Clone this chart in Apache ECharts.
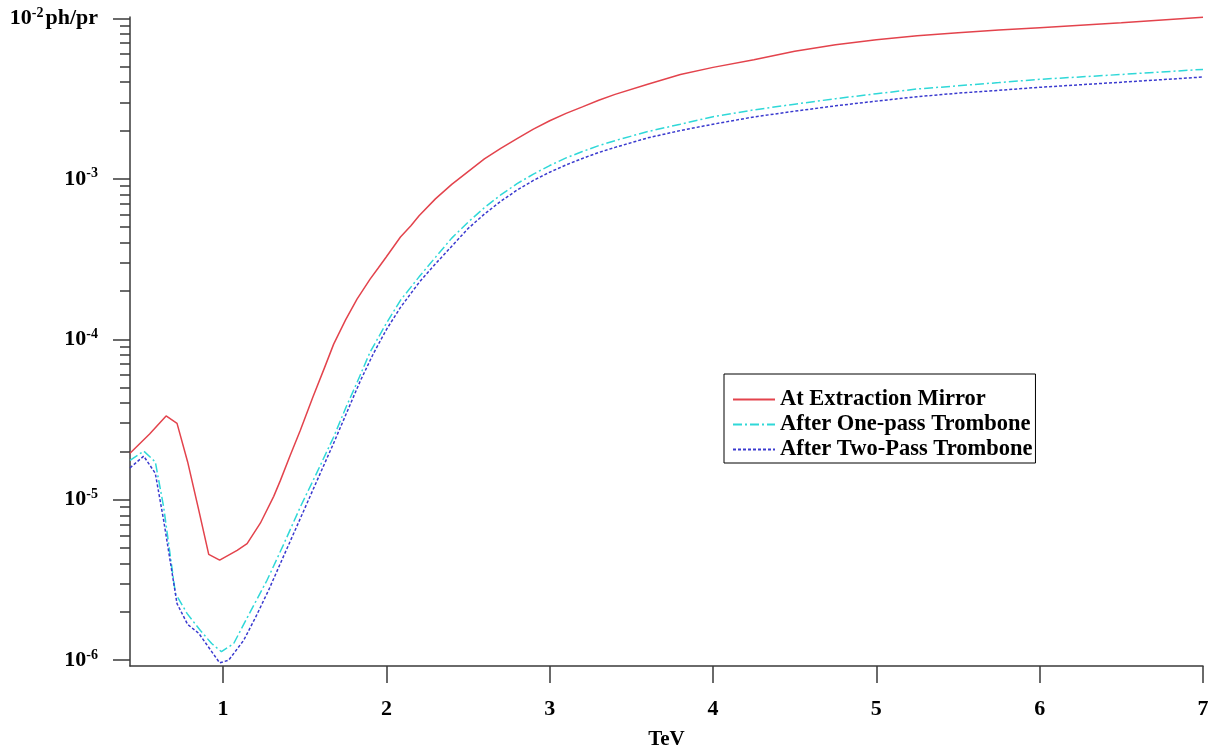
<!DOCTYPE html>
<html>
<head>
<meta charset="utf-8">
<script src="https://cdn.jsdelivr.net/npm/echarts@6/dist/echarts.min.js"></script>
<style>
html,body{margin:0;padding:0;background:#fff;}
#chart{width:1213px;height:748px;}
</style>
</head>
<body>
<div id="chart"></div>
<script>
// ---- data ----
const seriesNames = ['At Extraction Mirror', 'After One-pass Trombone', 'After Two-Pass Trombone'];

const xRed = [0.43,0.55,0.651,0.718,0.783,0.85,0.912,0.979,1.086,1.147,1.228,1.31,1.351,1.41,1.473,1.55,1.62,1.677,1.75,1.82,1.9,1.95,2.0,2.086,2.15,2.2,2.3,2.4,2.5,2.6,2.7,2.8,2.9,3.0,3.1,3.2,3.3,3.4,3.6,3.8,4.0,4.25,4.5,4.75,5.0,5.25,5.5,5.75,6.0,6.5,7.0];
const yRed = [1.95e-5,2.57e-5,3.33e-5,2.99e-5,1.72e-5,8.71e-6,4.57e-6,4.20e-6,4.84e-6,5.33e-6,7.14e-6,1.05e-5,1.32e-5,1.88e-5,2.71e-5,4.37e-5,6.61e-5,9.33e-5,1.32e-4,1.78e-4,2.37e-4,2.78e-4,3.27e-4,4.34e-4,5.10e-4,5.89e-4,7.50e-4,9.23e-4,1.11e-3,1.33e-3,1.55e-3,1.78e-3,2.04e-3,2.30e-3,2.56e-3,2.81e-3,3.09e-3,3.36e-3,3.89e-3,4.47e-3,4.95e-3,5.52e-3,6.24e-3,6.84e-3,7.36e-3,7.80e-3,8.13e-3,8.45e-3,8.75e-3,9.38e-3,1.015e-2];

const xCyan = [0.43,0.514,0.585,0.636,0.708,0.78,0.861,0.93,0.99,1.065,1.15,1.269,1.37,1.473,1.575,1.677,1.75,1.82,1.9,2.0,2.086,2.2,2.3,2.4,2.5,2.6,2.7,2.8,2.9,3.0,3.1,3.2,3.3,3.4,3.6,3.8,4.0,4.25,4.5,4.75,5.0,5.25,5.5,5.75,6.0,6.5,7.0];
const yCyan = [1.76e-5,2.01e-5,1.72e-5,9.02e-6,2.61e-6,1.95e-6,1.53e-6,1.27e-6,1.13e-6,1.27e-6,1.86e-6,3.15e-6,5.25e-6,9.02e-6,1.48e-5,2.46e-5,3.72e-5,5.37e-5,8.32e-5,1.26e-4,1.75e-4,2.45e-4,3.24e-4,4.27e-4,5.37e-4,6.61e-4,7.94e-4,9.33e-4,1.07e-3,1.21e-3,1.35e-3,1.48e-3,1.61e-3,1.73e-3,1.97e-3,2.19e-3,2.44e-3,2.69e-3,2.92e-3,3.16e-3,3.39e-3,3.63e-3,3.80e-3,3.98e-3,4.17e-3,4.47e-3,4.81e-3];

const xBlue = [0.43,0.514,0.585,0.636,0.718,0.783,0.851,0.92,0.979,1.034,1.126,1.2,1.28,1.38,1.48,1.58,1.68,1.76,1.84,1.92,2.0,2.086,2.2,2.3,2.4,2.5,2.6,2.7,2.8,2.9,3.0,3.1,3.2,3.3,3.4,3.6,3.8,4.0,4.25,4.5,4.75,5.0,5.25,5.5,5.75,6.0,6.5,7.0];
const yBlue = [1.58e-5,1.87e-5,1.46e-5,7.45e-6,2.25e-6,1.67e-6,1.47e-6,1.17e-6,9.62e-7,1.0e-6,1.33e-6,1.86e-6,2.75e-6,4.68e-6,7.94e-6,1.35e-5,2.29e-5,3.55e-5,5.50e-5,8.13e-5,1.15e-4,1.58e-4,2.26e-4,2.95e-4,3.80e-4,4.90e-4,6.03e-4,7.24e-4,8.51e-4,9.77e-4,1.10e-3,1.22e-3,1.34e-3,1.46e-3,1.57e-3,1.80e-3,2.00e-3,2.19e-3,2.43e-3,2.64e-3,2.85e-3,3.05e-3,3.25e-3,3.42e-3,3.56e-3,3.72e-3,4.00e-3,4.31e-3];

const xTicks = [1,2,3,4,5,6,7];
const yMajorTicks = [1e-6,1e-5,1e-4,1e-3,1e-2];
const yMinorTicks = [
  2e-6,3e-6,4e-6,5e-6,6e-6,7e-6,8e-6,9e-6,
  2e-5,3e-5,4e-5,5e-5,6e-5,7e-5,8e-5,9e-5,
  2e-4,3e-4,4e-4,5e-4,6e-4,7e-4,8e-4,9e-4,
  2e-3,3e-3,4e-3,5e-3,6e-3,7e-3,8e-3,9e-3
];
const yUnit = 'ph/pr';
const xName = 'TeV';

// ---- chart ----
const FONT = '"Liberation Serif","Times New Roman",serif';
const AXIS = '#3a3a3a';
const zip = (xs, ys) => xs.map((x, i) => [x, ys[i]]);
const Y_MIN = 9.2e-7, Y_MAX = 1.02e-2;

const chart = echarts.init(document.getElementById('chart'), null, {renderer: 'canvas'});
chart.setOption({
  backgroundColor: '#fff',
  animation: false,
  grid: {left: 130, right: 10, top: 17, bottom: 82, containLabel: false, outerBoundsMode: 'none'},
  xAxis: {
    type: 'value', min: 0.43, max: 7,
    name: xName, nameLocation: 'middle', nameGap: 63,
    nameTextStyle: {fontFamily: FONT, fontWeight: 'bold', fontSize: 21, color: '#000'},
    axisLine: {lineStyle: {color: AXIS, width: 1.5}},
    axisTick: {customValues: xTicks, length: 17, lineStyle: {color: AXIS, width: 1.5}},
    axisLabel: {customValues: xTicks, margin: 32, fontFamily: FONT, fontWeight: 'bold', fontSize: 22, color: '#000'},
    splitLine: {show: false}
  },
  yAxis: [{
    type: 'log', logBase: 10, min: Y_MIN, max: Y_MAX, position: 'left',
    axisLine: {show: true, lineStyle: {color: AXIS, width: 1.5}},
    axisTick: {customValues: yMajorTicks, length: 17, lineStyle: {color: AXIS, width: 1.5}},
    axisLabel: {
      customValues: yMajorTicks, margin: 32,
      formatter: function (v) {
        const e = Math.round(Math.log10(v));
        let s = '{n|10}{s|' + e + '}';
        if (e === -2) s += '{u|' + yUnit + '}';
        return s;
      },
      rich: {
        n: {fontFamily: FONT, fontWeight: 'bold', fontSize: 22, color: '#000', lineHeight: 24},
        s: {fontFamily: FONT, fontWeight: 'bold', fontSize: 14, color: '#000', lineHeight: 14, verticalAlign: 'top'},
        u: {fontFamily: FONT, fontWeight: 'bold', fontSize: 22, color: '#000', lineHeight: 24, padding: [0,0,0,2]}
      }
    },
    splitLine: {show: false}
  }, {
    type: 'log', logBase: 10, min: Y_MIN, max: Y_MAX, position: 'left', offset: 0,
    axisLine: {show: false},
    axisTick: {show: true, customValues: yMinorTicks, length: 10, lineStyle: {color: AXIS, width: 1.5}},
    axisLabel: {show: false},
    splitLine: {show: false}
  }],
  legend: {
    orient: 'vertical', left: 724, top: 374,
    padding: [14, 3, 2, 8],
    itemWidth: 42, itemHeight: 14, itemGap: 2,
    backgroundColor: '#fff', borderColor: '#000', borderWidth: 1,
    itemStyle: {opacity: 0},
    textStyle: {fontFamily: FONT, fontWeight: 'bold', fontSize: 22.5, color: '#000', lineHeight: 23},
    data: seriesNames
  },
  series: [{
    name: seriesNames[0], type: 'line', symbol: 'none', yAxisIndex: 0,
    lineStyle: {color: '#e3434c', width: 1.5, type: 'solid'},
    itemStyle: {color: '#e3434c'},
    data: zip(xRed, yRed), clip: false
  }, {
    name: seriesNames[1], type: 'line', symbol: 'none', yAxisIndex: 0,
    lineStyle: {color: '#2fd8d8', width: 1.5, type: [9, 3, 2, 3]},
    itemStyle: {color: '#2fd8d8'},
    data: zip(xCyan, yCyan)
  }, {
    name: seriesNames[2], type: 'line', symbol: 'none', yAxisIndex: 0,
    lineStyle: {color: '#3a3acf', width: 1.5, type: [3, 2]},
    itemStyle: {color: '#3a3acf'},
    data: zip(xBlue, yBlue)
  }]
});
</script>
</body>
</html>
